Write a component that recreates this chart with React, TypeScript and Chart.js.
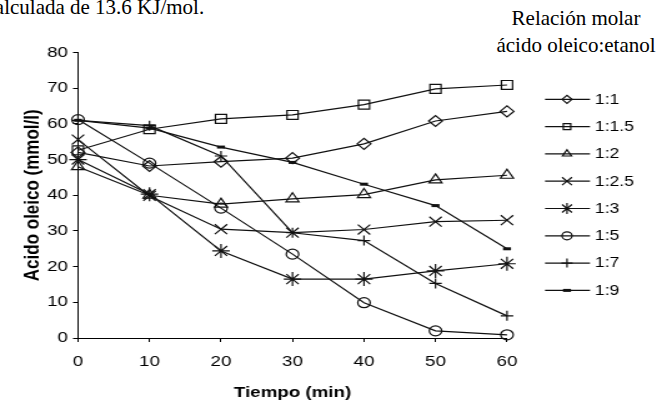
import React, { useEffect, useRef } from "react";
import { Chart, registerables } from "chart.js";
import { drawPoint } from "chart.js/helpers";

Chart.register(...registerables);

// Tiempo (min)
const times = [0, 10, 20, 30, 40, 50, 60];
// Relación molar ácido oleico:etanol
const ratios = ["1:1", "1:1.5", "1:2", "1:2.5", "1:3", "1:5", "1:7", "1:9"];
// Ácido oleico (mmol/l) per ratio
const acid_1_1 = [52, 48.2, 49.4, 50.4, 54.4, 60.8, 63.5];
const acid_1_1_5 = [52.6, 58.5, 61.4, 62.5, 65.4, 69.8, 70.9];
const acid_1_2 = [48, 40, 37.5, 39, 40.2, 44.3, 45.6];
const acid_1_2_5 = [55.6, 39.8, 30.5, 29.5, 30.4, 32.6, 33];
const acid_1_3 = [50, 40.3, 24.4, 16.5, 16.5, 18.8, 20.8];
const acid_1_5 = [61.2, 49, 36.4, 23.5, 9.9, 2, 0.9];
const acid_1_7 = [61, 59.5, 51, 29.5, 27.3, 15.3, 6.2];
const acid_1_9 = [61, 58.8, 53.5, 49.2, 43.1, 37.1, 25];

const yMin = 0;
const yMax = 80;
const yStep = 10;
const xMin = 0;
const xMax = 60;
const xStep = 10;

const CW = 526;
const CH = 402;
const SX = 657 / CW;

export default function App() {
  const ref = useRef<HTMLCanvasElement>(null);

  useEffect(() => {
    const canvas = ref.current!;
    const series = [acid_1_1, acid_1_1_5, acid_1_2, acid_1_2_5, acid_1_3, acid_1_5, acid_1_7, acid_1_9];
    const styles = ["rectRot", "rect", "triangle", "crossRot", "star", "circle", "cross", "line"];
    const radii = [5.5, 6.3, 6, 7, 7, 5, 5, 3.2];
    const legendRadii = [4, 4.2, 4.2, 5.6, 5.6, 4, 4.5, 3.2];

    const datasets = ratios.map((label, i) => ({
      label,
      data: times.map((t, j) => ({ x: t, y: series[i][j] })),
      borderColor: "#111",
      borderWidth: 1.2,
      pointStyle: styles[i] as any,
      pointRadius: radii[i],
      pointHoverRadius: radii[i],
      pointBorderColor: "#111",
      pointBackgroundColor: "rgba(0,0,0,0)",
      pointBorderWidth: i === 7 ? 3 : 1.2,
      fill: false,
      tension: 0,
      clip: false,
    }));

    const legendPlugin = {
      id: "customLegend",
      afterDraw(chart: any) {
        const ctx = chart.ctx as CanvasRenderingContext2D;
        ctx.save();
        chart.data.datasets.forEach((ds: any, i: number) => {
          const y = 99.3 + i * 27.3;
          ctx.strokeStyle = "#111";
          ctx.lineWidth = 1.2;
          ctx.beginPath();
          ctx.moveTo(545 / SX, y);
          ctx.lineTo(590 / SX, y);
          ctx.stroke();
          ctx.fillStyle = "rgba(0,0,0,0)";
          ctx.lineWidth = i === 7 ? 3 : 1.2;
          drawPoint(
            ctx,
            { pointStyle: ds.pointStyle, rotation: 0, radius: legendRadii[i], borderWidth: i === 7 ? 3 : 1.2 } as any,
            567 / SX,
            y
          );
          ctx.fillStyle = "#000";
          ctx.font = '14px "Liberation Sans", Arial, sans-serif';
          ctx.textBaseline = "middle";
          ctx.textAlign = "left";
          ctx.fillText(ds.label, 595 / SX, y + 0.5);
        });
        ctx.restore();
      },
    };

    const chart = new Chart(canvas, {
      type: "line",
      data: { datasets },
      plugins: [legendPlugin],
      options: {
        animation: false,
        responsive: false,
        devicePixelRatio: 1,
        layout: { padding: { left: 0, right: CW - 507 / SX, top: 52.5, bottom: 0 } },
        plugins: { legend: { display: false }, tooltip: { enabled: false } },
        scales: {
          x: {
            type: "linear",
            min: xMin,
            max: xMax,
            afterFit: (s: any) => {
              s.height = CH - 338;
            },
            ticks: {
              stepSize: xStep,
              color: "#000",
              padding: 11,
              font: { family: '"Liberation Sans", Arial, sans-serif', size: 15 },
              maxRotation: 0,
            },
            grid: { drawOnChartArea: false, drawTicks: true, tickLength: 4, color: "#000", lineWidth: 1 },
            border: { display: true, color: "#000", width: 1 },
            title: {
              display: true,
              text: "Tiempo (min)",
              color: "#000",
              font: { family: '"Liberation Sans", Arial, sans-serif', size: 15, weight: "bold" },
              padding: { top: 0, bottom: 0 },
            },
          },
          y: {
            type: "linear",
            min: yMin,
            max: yMax,
            afterFit: (s: any) => {
              s.width = 78 / SX;
            },
            ticks: {
              stepSize: yStep,
              color: "#000",
              padding: 4,
              font: { family: '"Liberation Sans", Arial, sans-serif', size: 15 },
            },
            grid: { drawOnChartArea: false, drawTicks: true, tickLength: 4, color: "#000", lineWidth: 1 },
            border: { display: true, color: "#000", width: 1 },
            title: {
              display: true,
              text: "Acido oleico (mmol/l)",
              color: "#000",
              font: { family: '"Liberation Sans", Arial, sans-serif', size: 17, weight: "bold" },
              padding: { top: 33 / SX - 10.2, bottom: 0 },
            },
          },
        },
      },
    } as any);

    return () => chart.destroy();
  }, []);

  return (
    <div
      style={{
        position: "fixed",
        left: 0,
        top: 0,
        width: 657,
        height: 402,
        overflow: "hidden",
        background: "#fff",
      }}
    >
      <div
        style={{
          position: "absolute",
          left: -14.5,
          top: -2.8,
          whiteSpace: "nowrap",
          fontFamily: '"Liberation Serif", "Times New Roman", serif',
          fontSize: 21,
          lineHeight: "20px",
          color: "#000",
        }}
      >
        calculada de 13.6 KJ/mol.
      </div>
      <div
        style={{
          position: "absolute",
          left: 476,
          top: 5.4,
          width: 200,
          textAlign: "center",
          fontFamily: '"Liberation Serif", "Times New Roman", serif',
          fontSize: 21,
          lineHeight: "27px",
          color: "#000",
          whiteSpace: "nowrap",
        }}
      >
        Relación molar
        <br />
        ácido oleico:etanol
      </div>
      <div
        style={{
          position: "absolute",
          left: 0,
          top: 0,
          width: CW,
          height: CH,
          transform: `scaleX(${SX})`,
          transformOrigin: "0 0",
        }}
      >
        <canvas ref={ref} width={CW} height={CH} style={{ display: "block" }} />
      </div>
    </div>
  );
}
